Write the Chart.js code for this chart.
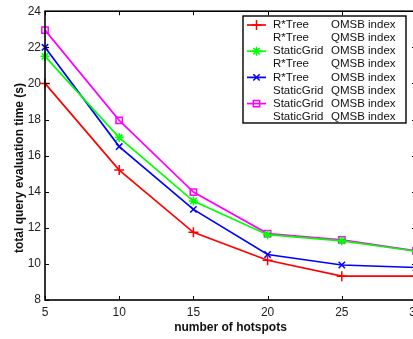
<!DOCTYPE html>
<html>
<head>
    <title>Query evaluation time vs hotspots</title>
    <style>
        body {
            margin: 0;
            padding: 0;
            background: #fff;
            overflow: hidden;
        }
        #wrap {
            width: 430px;
            height: 339px;
        }
    </style>
</head>
<body>
    <div id="wrap">
        <canvas id="chart" width="430" height="339"></canvas>
    </div>

    <script src="https://cdn.jsdelivr.net/npm/chart.js"></script>
    <script>
        // number of hotspots on the x axis
        var hotspots = [5, 10, 15, 20, 25, 30];

        // total query evaluation time (s) per index
        var rtreeRed = [20.0, 15.2, 11.75, 10.2, 9.32, 9.32];
        var gridGreen = [21.5, 17.0, 13.48, 11.62, 11.28, 10.7];
        var rtreeBlue = [22.0, 16.5, 13.02, 10.52, 9.94, 9.8];
        var gridMagenta = [22.95, 17.95, 13.98, 11.68, 11.33, 10.72];

        var yTicks = [8, 10, 12, 14, 16, 18, 20, 22, 24];

        // legend rows: method, index, and which dataset draws the sample (-1 = none)
        var legendMethods = ['R*Tree', 'R*Tree', 'StaticGrid', 'R*Tree', 'R*Tree', 'StaticGrid', 'StaticGrid', 'StaticGrid'];
        var legendIndexes = ['OMSB index', 'QMSB index', 'OMSB index', 'QMSB index', 'OMSB index', 'QMSB index', 'OMSB index', 'QMSB index'];
        var legendSeries = [0, -1, 1, -1, 2, -1, 3, -1];

        var yTitle = 'total query evaluation time (s)';

        var FONT = "'Liberation Sans', Arial, sans-serif";

        function points(values) {
            return values.map(function (v, i) { return { x: hotspots[i], y: v }; });
        }

        function series(label, values, color, style, radius) {
            return {
                label: label,
                data: points(values),
                borderColor: color,
                backgroundColor: color,
                pointBorderColor: color,
                pointBackgroundColor: style === 'rect' ? 'rgba(0,0,0,0)' : color,
                pointStyle: style,
                pointRadius: radius,
                pointBorderWidth: 1.5,
                borderWidth: 1.7,
                tension: 0,
                clip: false
            };
        }

        // inward tick marks on all four sides, the closing box and the y title
        var boxTicks = {
            id: 'boxTicks',
            afterDraw: function (chart) {
                var ctx = chart.ctx, a = chart.chartArea;
                var xs = chart.scales.x, ys = chart.scales.y;
                ctx.save();
                ctx.strokeStyle = '#000';
                ctx.lineWidth = 1;
                ctx.beginPath();
                hotspots.forEach(function (v) {
                    var px = Math.round(xs.getPixelForValue(v)) + 0.5;
                    ctx.moveTo(px, a.bottom); ctx.lineTo(px, a.bottom - 4);
                    ctx.moveTo(px, a.top); ctx.lineTo(px, a.top + 4);
                });
                yTicks.forEach(function (v) {
                    var py = Math.round(ys.getPixelForValue(v)) + 0.5;
                    ctx.moveTo(a.left, py); ctx.lineTo(a.left + 4, py);
                    ctx.moveTo(a.right, py); ctx.lineTo(a.right - 4, py);
                });
                ctx.stroke();
                ctx.lineWidth = 1.6;
                ctx.strokeRect(a.left, a.top, a.right - a.left, a.bottom - a.top);

                // y axis title, rotated, sitting a little below the axis middle
                ctx.translate(20, 168);
                ctx.rotate(-Math.PI / 2);
                ctx.font = 'bold 12px ' + FONT;
                ctx.fillStyle = '#111';
                ctx.textAlign = 'center';
                ctx.textBaseline = 'middle';
                ctx.fillText(yTitle, 0, 0);
                ctx.restore();
            }
        };

        // legend box in the upper right corner
        var boxLegend = {
            id: 'boxLegend',
            afterDraw: function (chart) {
                var ctx = chart.ctx;
                var x0 = 243, y0 = 16, w = 163, h = 107, rowH = 13.1;
                ctx.save();
                ctx.fillStyle = '#fff';
                ctx.fillRect(x0, y0, w, h);
                ctx.strokeStyle = '#000';
                ctx.lineWidth = 1.4;
                ctx.strokeRect(x0, y0, w, h);
                ctx.font = '11.5px ' + FONT;
                ctx.textBaseline = 'middle';
                for (var i = 0; i < legendMethods.length; i++) {
                    var cy = y0 + 9 + i * rowH;
                    ctx.fillStyle = '#111';
                    ctx.fillText(legendMethods[i], x0 + 30, cy);
                    ctx.fillText(legendIndexes[i], x0 + 88, cy);
                    var k = legendSeries[i];
                    if (k < 0) continue;
                    var ds = chart.data.datasets[k];
                    ctx.strokeStyle = ds.borderColor;
                    ctx.lineWidth = ds.borderWidth;
                    ctx.beginPath();
                    ctx.moveTo(x0 + 4, cy);
                    ctx.lineTo(x0 + 23, cy);
                    ctx.stroke();
                    ctx.fillStyle = ds.pointBackgroundColor;
                    ctx.strokeStyle = ds.pointBorderColor;
                    ctx.lineWidth = ds.pointBorderWidth;
                    Chart.helpers.drawPoint(ctx, {
                        pointStyle: ds.pointStyle,
                        radius: ds.pointRadius,
                        borderWidth: ds.pointBorderWidth,
                        rotation: 0
                    }, x0 + 13.5, cy);
                }
                ctx.restore();
            }
        };

        var ctx = document.getElementById('chart').getContext('2d');
        new Chart(ctx, {
            type: 'line',
            data: {
                datasets: [
                    series('R*Tree OMSB index', rtreeRed, '#ff0000', 'cross', 5),
                    series('StaticGrid OMSB index', gridGreen, '#00ff00', 'star', 4.5),
                    series('R*Tree OMSB index', rtreeBlue, '#0000ff', 'crossRot', 4.5),
                    series('StaticGrid OMSB index', gridMagenta, '#ff00ff', 'rect', 4.5)
                ]
            },
            options: {
                responsive: false,
                animation: false,
                layout: { padding: { top: 9, right: 14, left: 0, bottom: 0 } },
                plugins: {
                    legend: { display: false },
                    tooltip: { enabled: false }
                },
                scales: {
                    x: {
                        type: 'linear',
                        min: 5,
                        max: 30,
                        afterBuildTicks: function (s) {
                            s.ticks = hotspots.map(function (v) { return { value: v }; });
                        },
                        afterFit: function (s) { s.height = 39; },
                        grid: { display: false, drawTicks: false },
                        border: { display: false },
                        ticks: {
                            color: '#222',
                            font: { family: FONT, size: 12 },
                            padding: 5,
                            maxRotation: 0
                        },
                        title: {
                            display: true,
                            text: 'number of hotspots',
                            color: '#111',
                            font: { family: FONT, size: 12, weight: 'bold' },
                            padding: { top: 0, bottom: 4 }
                        }
                    },
                    y: {
                        min: 8,
                        max: 24,
                        afterBuildTicks: function (s) {
                            s.ticks = yTicks.map(function (v) { return { value: v }; });
                        },
                        afterFit: function (s) { s.width = 45; },
                        grid: { display: false, drawTicks: false },
                        border: { display: false },
                        ticks: {
                            color: '#222',
                            font: { family: FONT, size: 12 },
                            padding: 4
                        },
                        title: { display: false }
                    }
                }
            },
            plugins: [boxTicks, boxLegend]
        });
    </script>
</body>
</html>
